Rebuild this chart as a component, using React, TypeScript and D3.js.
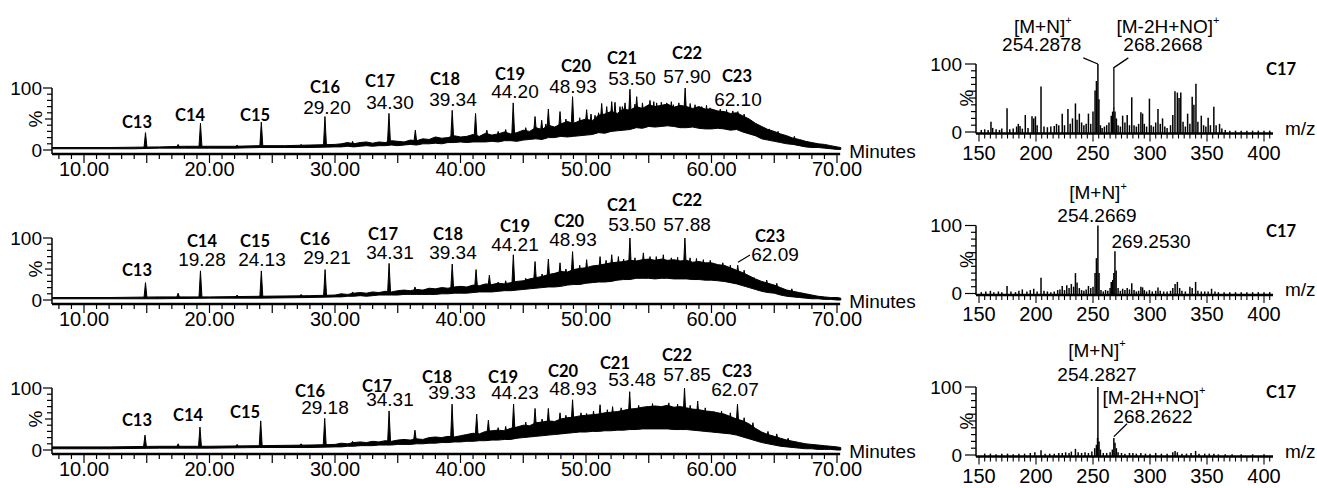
import React from 'react';
import * as d3 from 'd3';

const W = 1317;
const H = 488;

// ---------- Chromatogram data (time min, low %, high %) ----------
const env1: number[][] = [
  [7.5, 2, 4], [10, 2, 4], [12, 2, 4], [14, 2, 4.5], [16, 3, 5], [18, 3, 6], [20, 3, 6], [22, 3, 6],
  [24, 4, 7], [26, 4, 7], [28, 4, 8],
  [30, 5, 9], [30.5, 5, 10], [31, 6, 12], [31.5, 5, 10], [32, 6, 12], [32.5, 7, 13], [33, 6, 11], [33.5, 7, 13],
  [34, 7, 12], [34.5, 8, 15], [35, 7, 14], [35.5, 8, 13], [36, 9, 16], [36.5, 8, 15], [37, 10, 18], [37.5, 10, 17],
  [38, 11, 21], [38.5, 10, 19], [39, 12, 20], [39.5, 12, 23], [40, 13, 21], [40.5, 12, 22], [41, 13, 25],
  [41.5, 13, 22], [42, 13, 27], [42.5, 14, 24], [43, 13, 26], [43.5, 15, 29], [44, 15, 26], [44.5, 14, 28],
  [45, 16, 32], [45.5, 17, 30], [46, 18, 36], [46.5, 17, 33], [47, 20, 40], [47.5, 20, 37], [48, 22, 42],
  [48.5, 21, 46], [49, 22, 43], [49.5, 23, 47], [50, 24, 50], [50.5, 25, 47], [51, 28, 56], [51.5, 27, 58],
  [52, 30, 62], [52.5, 31, 59], [53, 32, 66], [53.5, 33, 64], [54, 36, 70], [54.5, 35, 67], [55, 38, 73],
  [55.5, 37, 70], [56, 38, 72], [56.5, 39, 74], [57, 38, 69], [57.5, 36, 72], [58, 36, 70], [58.5, 37, 67],
  [59, 35, 70], [59.5, 34, 66], [60, 34, 66], [60.5, 35, 63], [61, 34, 62], [61.5, 32, 59], [62, 33, 60],
  [62.5, 29, 55], [63, 26, 50], [63.5, 23, 43], [64, 18, 38], [64.5, 16, 33], [65, 14, 30], [65.5, 12, 26],
  [66, 10, 23], [66.5, 9, 19], [67, 7, 17], [67.5, 5, 14], [68, 4, 12], [68.5, 4, 10], [69, 3, 9],
  [69.5, 2, 7], [70, 1, 5], [70.3, 1, 4],
];
const env2: number[][] = [
  [7.5, 2, 4], [12, 2, 4], [16, 2, 5], [20, 3, 5], [24, 3, 6], [28, 4, 7],
  [30, 5, 8], [30.5, 5, 10], [31, 6, 9], [31.5, 6, 11], [32, 7, 12], [32.5, 6, 11], [33, 7, 13], [33.5, 8, 12],
  [34, 8, 14], [34.5, 8, 13], [35, 8, 15], [35.5, 9, 16], [36, 9, 15], [36.5, 9, 17], [37, 9, 16], [37.5, 9, 19],
  [38, 9, 18], [38.5, 10, 20], [39, 10, 19], [39.5, 11, 21], [40, 11, 22], [40.5, 11, 21], [41, 12, 24],
  [41.5, 13, 23], [42, 13, 26], [42.5, 13, 25], [43, 14, 27], [43.5, 15, 26], [44, 15, 28], [44.5, 16, 30],
  [45, 17, 31], [45.5, 18, 34], [46, 19, 36], [46.5, 20, 38], [47, 21, 41], [47.5, 21, 43], [48, 22, 46],
  [48.5, 24, 45], [49, 25, 49], [49.5, 25, 51], [50, 27, 52], [50.5, 28, 55], [51, 29, 56], [51.5, 29, 58],
  [52, 30, 60], [52.5, 32, 61], [53, 33, 62], [53.5, 33, 64], [54, 35, 63], [54.5, 35, 65], [55, 35, 66],
  [55.5, 34, 64], [56, 35, 66], [56.5, 35, 64], [57, 34, 65], [57.5, 34, 63], [58, 34, 64], [58.5, 33, 61],
  [59, 33, 62], [59.5, 32, 60], [60, 32, 60], [60.5, 31, 57], [61, 30, 56], [61.5, 28, 52], [62, 26, 48],
  [62.5, 23, 44], [63, 20, 39], [63.5, 17, 34], [64, 14, 30], [64.5, 12, 27], [65, 11, 24], [65.5, 8, 20],
  [66, 6, 16], [66.5, 5, 14], [67, 4, 12], [67.5, 3, 10], [68, 2, 8], [68.5, 2, 6], [69, 1, 5], [69.5, 1, 4],
  [70, 0, 4], [70.3, 0, 3],
];
const env3: number[][] = [
  [7.5, 2, 5], [12, 2, 5], [16, 3, 6], [20, 3, 6], [24, 4, 7], [28, 4, 8],
  [30, 5, 9], [30.5, 5, 11], [31, 6, 10], [31.5, 6, 12], [32, 7, 13], [32.5, 7, 12], [33, 7, 14], [33.5, 8, 13],
  [34, 8, 15], [34.5, 8, 14], [35, 9, 16], [35.5, 9, 17], [36, 9, 16], [36.5, 10, 18], [37, 10, 17], [37.5, 11, 20],
  [38, 11, 21], [38.5, 12, 20], [39, 12, 22], [39.5, 13, 21], [40, 13, 23], [40.5, 14, 25], [41, 14, 27],
  [41.5, 15, 26], [42, 15, 30], [42.5, 16, 31], [43, 16, 32], [43.5, 17, 31], [44, 17, 35], [44.5, 19, 37],
  [45, 20, 40], [45.5, 21, 39], [46, 22, 44], [46.5, 23, 45], [47, 24, 47], [47.5, 25, 46], [48, 26, 50],
  [48.5, 27, 52], [49, 28, 53], [49.5, 29, 55], [50, 29, 56], [50.5, 30, 57], [51, 30, 58], [51.5, 31, 60],
  [52, 31, 61], [52.5, 32, 62], [53, 32, 64], [53.5, 33, 66], [54, 33, 67], [54.5, 34, 69], [55, 34, 70],
  [55.5, 34, 71], [56, 34, 70], [56.5, 34, 72], [57, 33, 69], [57.5, 33, 70], [58, 33, 68], [58.5, 32, 66],
  [59, 31, 65], [59.5, 30, 63], [60, 29, 62], [60.5, 28, 60], [61, 27, 58], [61.5, 26, 54], [62, 24, 50],
  [62.5, 21, 47], [63, 18, 42], [63.5, 15, 35], [64, 12, 29], [64.5, 10, 25], [65, 8, 22], [65.5, 6, 19],
  [66, 5, 16], [66.5, 4, 14], [67, 3, 12], [67.5, 2, 10], [68, 2, 9], [68.5, 1, 8], [69, 1, 7], [69.5, 1, 6],
  [70, 0, 5], [70.3, 0, 4],
];

// spikes: [time, height %]
const spikes1: number[][] = [
  [14.9, 28], [17.5, 9], [19.28, 43], [22.2, 8], [24.13, 45], [27.3, 9], [29.2, 54], [31.4, 14],
  [34.3, 59], [36.4, 32], [39.34, 64], [41.2, 59], [42.1, 32], [44.2, 76], [45.94, 54], [46.47, 48],
  [47.0, 66], [47.93, 62], [48.93, 86], [50.05, 65], [50.72, 56], [51.25, 75], [51.65, 70], [52.05, 78],
  [52.31, 77], [52.71, 70], [53.11, 76], [53.5, 98], [54.04, 86], [55.1, 80], [55.63, 76], [56.43, 76],
  [56.96, 73], [57.9, 100], [58.69, 73], [59.22, 70], [59.88, 68], [60.28, 62], [62.1, 62], [63.6, 35],
  [43.0, 30], [43.6, 33], [45.2, 36], [46.8, 42], [48.4, 50], [49.5, 52], [50.4, 58], [51.0, 60],
  [52.9, 70], [53.9, 74], [54.5, 76], [55.4, 78], [56.0, 77], [56.8, 78], [57.4, 76], [58.3, 75],
  [59.6, 72], [60.7, 66], [61.2, 65], [61.7, 63], [62.6, 58], [64.6, 34], [65.3, 30], [66.6, 22],
];
const spikes2: number[][] = [
  [14.9, 28], [17.5, 11], [19.28, 47], [22.2, 8], [24.13, 47], [27.3, 9], [29.21, 49], [31.4, 13],
  [34.31, 59], [36.37, 21], [39.34, 58], [41.24, 49], [42.3, 40], [44.21, 73], [45.94, 62], [47.0, 66],
  [47.93, 60], [48.93, 78], [50.05, 65], [50.58, 54], [51.12, 70], [52.05, 73], [52.58, 70], [53.5, 100],
  [54.57, 76], [55.1, 70], [56.16, 73], [57.88, 100], [58.29, 68], [59.35, 65], [60.4, 58], [62.09, 56],
  [63.4, 36],
  [43.0, 29], [43.6, 31], [45.2, 35], [46.5, 42], [48.4, 50], [49.5, 56], [51.6, 64], [53.0, 66],
  [53.9, 68], [55.6, 70], [56.8, 68], [57.3, 69], [58.8, 67], [59.9, 64], [60.9, 60], [61.5, 56],
  [62.6, 48], [64.4, 32], [65.2, 27], [66.4, 18],
];
const spikes3: number[][] = [
  [14.86, 24], [17.5, 10], [19.24, 37], [22.2, 9], [24.08, 47], [27.3, 10], [29.18, 51], [31.4, 14],
  [34.31, 63], [36.37, 32], [39.33, 74], [41.29, 58], [42.22, 48], [44.23, 74], [45.94, 67], [47.0, 67],
  [47.93, 60], [48.93, 81], [50.05, 59], [51.12, 73], [52.12, 70], [53.48, 94], [54.84, 70], [56.16, 65],
  [57.85, 100], [58.9, 79], [60.2, 62], [62.07, 74], [63.3, 44], [66.1, 19],
  [43.0, 36], [43.6, 38], [45.2, 45], [46.5, 50], [48.4, 56], [49.6, 60], [50.6, 63], [51.7, 65],
  [52.8, 68], [54.2, 72], [55.3, 75], [56.6, 76], [57.3, 74], [58.3, 72], [59.5, 68], [60.8, 63],
  [61.5, 60], [62.6, 52], [64.5, 30], [65.2, 26],
];

const carbons = ['C13', 'C14', 'C15', 'C16', 'C17', 'C18', 'C19', 'C20', 'C21', 'C22', 'C23'];

// retention-time labels (null = none)
const rts1 = [null, null, null, '29.20', '34.30', '39.34', '44.20', '48.93', '53.50', '57.90', '62.10'];
const rts2 = [null, '19.28', '24.13', '29.21', '34.31', '39.34', '44.21', '48.93', '53.50', '57.88', '62.09'];
const rts3 = [null, null, null, '29.18', '34.31', '39.33', '44.23', '48.93', '53.48', '57.85', '62.07'];

// label anchors in data units [time, %]
const namePos1 = [[14.22, 45], [18.45, 56], [23.63, 56], [29.2, 101], [33.59, 111], [38.76, 114], [43.94, 122], [49.2, 135], [52.87, 149], [58.05, 157], [62.03, 120]];
const rtPos1 = [null, null, null, [29.36, 69], [34.38, 76], [39.4, 81], [44.34, 94], [48.96, 103], [53.67, 116], [58.05, 118], [62.11, 82]];
const namePos2 = [[14.22, 48], [19.4, 95], [23.63, 95], [28.41, 98], [33.82, 106], [39.0, 106], [44.34, 119], [48.65, 127], [52.87, 154], [58.05, 162], [64.66, 104]];
const rtPos2 = [null, [19.4, 65], [24.18, 65], [29.36, 68], [34.38, 76], [39.4, 76], [44.34, 89], [48.96, 97], [53.67, 121], [58.05, 121], [65.06, 73]];
const namePos3 = [[14.22, 48], [18.29, 56], [22.83, 61], [28.01, 95], [33.35, 104], [38.13, 118], [43.39, 118], [48.17, 127], [52.31, 141], [57.25, 154], [62.03, 127]];
const rtPos3 = [null, null, null, [29.2, 68], [34.38, 81], [39.32, 92], [44.34, 92], [48.96, 100], [53.67, 113], [58.05, 121], [61.87, 97]];

const leaders2 = [[[63.07, 72.6], [62.11, 61]]];

// ---------- Mass spectra data [m/z, %] ----------
const spec1: number[][] = [
  [152, 3], [155, 4], [158, 3], [160.5, 15], [162, 6], [165, 4], [168, 3], [170, 5], [174.6, 35], [177, 4],
  [180, 5], [183, 8], [184.5, 12], [186, 9], [188, 5], [190.6, 25], [193, 6], [196.5, 23], [198, 20],
  [199.5, 23], [201, 10], [204.4, 67], [207, 8], [210, 7], [213, 8], [216, 9], [218, 12], [220, 10],
  [223, 27], [225, 10], [228, 34], [230, 12], [232, 20], [234.6, 42], [236, 18], [238, 27], [240, 14],
  [242, 10], [244, 12], [246, 27], [248, 12], [250, 30], [251.8, 61], [253, 75], [254.3, 100], [255.2, 48],
  [256.5, 10], [258, 6], [260, 8], [262, 10], [264, 14], [266, 24], [267.2, 30], [268.3, 38], [269.3, 30],
  [270.5, 20], [272, 10], [274, 8], [276, 24], [278, 14], [280, 25], [282, 10], [284, 51], [286, 10],
  [288, 8], [290, 12], [292, 29], [293.5, 27], [295, 12], [297, 8], [299.5, 49], [301, 10], [303, 8],
  [305, 14], [307, 34], [309, 12], [311, 20], [313, 8], [315, 6], [318, 10], [320, 25], [321.9, 60],
  [324, 58], [325.5, 50], [327, 58], [329, 15], [331, 8], [333, 27], [335, 12], [337, 52], [338.5, 40],
  [340.3, 71], [342, 15], [345, 24], [347, 10], [349, 8], [351, 21], [353, 10], [356, 37], [358, 10],
  [361, 12], [363, 5], [366, 3], [370, 2], [375, 2], [380, 2], [385, 2], [390, 2], [395, 2], [400, 2], [405, 2],
];
const spec2: number[][] = [
  [152, 2], [156, 3], [160, 4], [163, 2], [167, 3], [170, 2], [174.6, 11], [178, 3], [182, 2], [185, 4],
  [188, 6], [192, 3], [195, 5], [198, 7], [201, 3], [204.4, 23], [207, 4], [210, 3], [213, 2], [216, 3],
  [219, 5], [221, 6], [223, 11], [225, 5], [227, 12], [229, 8], [231, 14], [233, 10], [234.6, 30],
  [236, 16], [238, 8], [240, 5], [242, 4], [244, 6], [246, 11], [248, 8], [250, 10], [251.8, 30],
  [253, 52], [254.3, 100], [255.3, 30], [257, 5], [259, 3], [261, 5], [263, 4], [265, 8], [266, 17],
  [267.3, 20], [268.3, 30], [269.25, 62], [270.3, 34], [272, 8], [274, 4], [276, 7], [278, 5], [280, 8],
  [282, 6], [284, 15], [286, 5], [288, 3], [290, 4], [292, 10], [293.5, 9], [295, 5], [297, 3],
  [299.5, 5], [302, 3], [305, 4], [307, 9], [309, 4], [312, 3], [315, 3], [318, 4], [320, 8], [322, 14],
  [324, 17], [326, 8], [328, 4], [331, 3], [335, 10], [337, 8], [340, 17], [342, 4], [345, 3], [348, 3],
  [351, 3], [354, 7], [357, 3], [360, 2], [365, 2], [370, 2], [375, 2], [380, 2], [385, 2], [390, 2],
  [395, 2], [400, 2], [405, 2],
];
const spec3: number[][] = [
  [155, 2], [160, 2], [165, 1], [170, 2], [175, 2], [180, 1], [185, 2], [190, 2], [195, 3], [199, 4],
  [204.4, 7], [208, 2], [212, 2], [216, 2], [220, 3], [223, 3], [226, 4], [229, 3], [231, 5], [234.6, 9],
  [237, 4], [240, 3], [243, 4], [246, 3], [249, 5], [251.5, 10], [253, 15], [254, 25], [254.3, 100],
  [255.3, 20], [256.5, 8], [259, 3], [262, 3], [265, 4], [267, 8], [268.3, 25], [269.3, 18], [270.5, 10],
  [272, 4], [275, 3], [278, 2], [282, 3], [285, 3], [288, 2], [292, 3], [296, 2], [300, 2], [305, 3],
  [310, 2], [315, 2], [320, 4], [322, 6], [324, 4], [328, 2], [332, 2], [336, 3], [340, 6], [343, 2],
  [348, 2], [352, 2], [356, 2], [360, 1], [366, 1], [372, 1], [380, 1], [390, 1], [400, 1],
];

type SpecLabel = { text: string; mz: number; v: number; sup?: boolean };
const specLabels1: SpecLabel[] = [
  { text: '[M+N]', mz: 206, v: 155, sup: true },
  { text: '254.2878', mz: 205, v: 129 },
  { text: '[M-2H+NO]', mz: 315.8, v: 155, sup: true },
  { text: '268.2668', mz: 311.4, v: 129 },
];
const specLabels2: SpecLabel[] = [
  { text: '[M+N]', mz: 254.4, v: 148, sup: true },
  { text: '254.2669', mz: 253.5, v: 115 },
  { text: '269.2530', mz: 300.9, v: 76 },
];
const specLabels3: SpecLabel[] = [
  { text: '[M+N]', mz: 253.5, v: 154, sup: true },
  { text: '254.2827', mz: 253.5, v: 119 },
  { text: '[M-2H+NO]', mz: 303.5, v: 85, sup: true },
  { text: '268.2622', mz: 302.6, v: 57 },
];
const specLeaders1 = [[[241.5, 109], [254.3, 100]], [[281, 109], [268.3, 94.6], [268.3, 38]]];
const specLeaders2: number[][][] = [];
const specLeaders3 = [[[279.8, 46], [268.3, 27]]];

const FONT = "'Liberation Sans', Arial, sans-serif";
const BOLD = "Lato, 'Open Sans', sans-serif";

function Chrom(props: any) {
  const { y0, env, spikes, rts, namePos, rtPos, leaders } = props;
  const x = d3.scaleLinear().domain([10, 70]).range([84, 837]);
  const y = d3.scaleLinear().domain([0, 100]).range([y0, y0 - 62]);
  const axY = y0 + 4;
  const xStart = x(7.45);
  const xEnd = x(70.25);
  const area = d3.area<number[]>().x((d) => x(d[0])).y0((d) => y(d[1])).y1((d) => y(d[2]));
  const ts = env.map((d: number[]) => d[0]);
  const baseAt = (t: number) => {
    const i = Math.max(1, Math.min(env.length - 1, d3.bisectLeft(ts, t)));
    const a = env[i - 1], b = env[i];
    const f = (t - a[0]) / (b[0] - a[0]);
    return (a[1] + (b[1] - a[1]) * f + a[2] + (b[2] - a[2]) * f) / 2;
  };
  const minor = d3.range(8, 71, 1);
  const major = d3.range(10, 71, 10);
  const yt = d3.range(0, 101, 10);
  return (
    <g>
      <path d={area(env) || ''} fill="#000" stroke="#000" strokeWidth={1} strokeLinejoin="round" />
      {spikes.map((s: number[], i: number) => {
        const b = baseAt(s[0]);
        return (
          <path key={i}
            d={`M${x(s[0] - 0.12)},${y(b)}L${x(s[0])},${y(s[1])}L${x(s[0] + 0.12)},${y(b)}Z`}
            fill="#000" stroke="#000" strokeWidth={1} />
        );
      })}
      {/* axes */}
      <line x1={xStart} x2={xEnd} y1={axY} y2={axY} stroke="#000" strokeWidth={2.4} />
      <line x1={xStart} x2={xStart} y1={axY} y2={y(100)} stroke="#000" strokeWidth={1.5} />
      {minor.map((t) => (
        <line key={t} x1={x(t)} x2={x(t)} y1={axY} y2={axY + (t % 5 === 0 ? 9 : 5)} stroke="#000" strokeWidth={1.2} />
      ))}
      {major.map((t) => (
        <text key={t} x={x(t)} y={y0 + 18.5} fontSize={20} fontFamily={FONT} textAnchor="middle" dominantBaseline="central">
          {d3.format('.2f')(t)}
        </text>
      ))}
      {yt.map((v) => (
        <line key={v} x1={xStart - (v % 100 === 0 ? 9 : v === 50 ? 7 : 5)} x2={xStart} y1={y(v)} y2={y(v)} stroke="#000" strokeWidth={1.2} />
      ))}
      <text x={xStart - 10} y={y(100)} fontSize={19} fontFamily={FONT} textAnchor="end" dominantBaseline="central">100</text>
      <text x={xStart - 10} y={y(0)} fontSize={19} fontFamily={FONT} textAnchor="end" dominantBaseline="central">0</text>
      <text transform={`translate(${xStart - 16},${y(50)}) rotate(-90)`} fontSize={19} fontFamily={FONT} textAnchor="middle" dominantBaseline="central">%</text>
      <text x={xEnd + 9} y={y0 + 1} fontSize={19} fontFamily={FONT} dominantBaseline="central">Minutes</text>
      {carbons.map((c, i) => (
        <text key={c} x={x(namePos[i][0])} y={y(namePos[i][1])} fontSize={16.5} fontWeight="bold" fontFamily={BOLD} textAnchor="middle" dominantBaseline="central">{c}</text>
      ))}
      {rts.map((r: string | null, i: number) => r && rtPos[i] ? (
        <text key={'r' + i} x={x(rtPos[i][0])} y={y(rtPos[i][1])} fontSize={19} fontFamily={FONT} textAnchor="middle" dominantBaseline="central">{r}</text>
      ) : null)}
      {leaders.map((l: number[][], i: number) => (
        <path key={'l' + i} d={d3.line<number[]>().x((d) => x(d[0])).y((d) => y(d[1]))(l) || ''} fill="none" stroke="#000" strokeWidth={1.2} />
      ))}
    </g>
  );
}

function Spec(props: any) {
  const { y0, data, labels, leaders } = props;
  const x = d3.scaleLinear().domain([150, 400]).range([979, 1264]);
  const y = d3.scaleLinear().domain([0, 100]).range([y0, y0 - 68]);
  const axY = y0 + 1.5;
  const xStart = 976;
  const xEnd = 1273;
  const minor = d3.range(150, 406, 5);
  const major = d3.range(150, 401, 50);
  const yt = d3.range(0, 101, 10);
  return (
    <g>
      {data.map((d: number[], i: number) => (
        <line key={i} x1={x(d[0])} x2={x(d[0])} y1={axY} y2={y(d[1])} stroke="#000" strokeWidth={1.5} />
      ))}
      <line x1={xStart} x2={xEnd} y1={axY} y2={axY} stroke="#000" strokeWidth={2.6} />
      <line x1={xStart} x2={xStart} y1={axY} y2={y(100)} stroke="#000" strokeWidth={1.5} />
      {minor.map((t) => (
        <line key={t} x1={x(t)} x2={x(t)} y1={axY} y2={axY + (t % 50 === 0 ? 8 : 5)} stroke="#000" strokeWidth={1.1} />
      ))}
      {major.map((t) => (
        <text key={t} x={x(t)} y={y0 + 20.5} fontSize={20} fontFamily={FONT} textAnchor="middle" dominantBaseline="central">{t}</text>
      ))}
      {yt.map((v) => (
        <line key={v} x1={xStart - (v % 100 === 0 ? 11 : v === 50 ? 7 : 5)} x2={xStart} y1={y(v)} y2={y(v)} stroke="#000" strokeWidth={1.2} />
      ))}
      <text x={xStart - 14} y={y(100)} fontSize={19} fontFamily={FONT} textAnchor="end" dominantBaseline="central">100</text>
      <text x={xStart - 14} y={y(0)} fontSize={19} fontFamily={FONT} textAnchor="end" dominantBaseline="central">0</text>
      <text transform={`translate(${xStart - 10},${y(50)}) rotate(-90)`} fontSize={19} fontFamily={FONT} textAnchor="middle" dominantBaseline="central">%</text>
      <text x={xEnd + 12} y={y0 - 4} fontSize={19} fontFamily={FONT} dominantBaseline="central">m/z</text>
      <text x={x(415)} y={y(92)} fontSize={16.5} fontWeight="bold" fontFamily={BOLD} textAnchor="middle" dominantBaseline="central">C17</text>
      {labels.map((l: SpecLabel, i: number) => (
        <text key={i} x={x(l.mz)} y={y(l.v)} fontSize={19} fontFamily={FONT} textAnchor="middle" dominantBaseline="central">
          {l.text}
          {l.sup ? <tspan fontSize={11} dy={-7}>+</tspan> : null}
        </text>
      ))}
      {leaders.map((l: number[][], i: number) => (
        <path key={'l' + i} d={d3.line<number[]>().x((d) => x(d[0])).y((d) => y(d[1]))(l) || ''} fill="none" stroke="#000" strokeWidth={1.3} />
      ))}
    </g>
  );
}

export default function App() {
  return (
    <svg width={W} height={H} style={{ position: 'absolute', left: 0, top: 0, background: '#fff' }}>
      <Chrom y0={150} env={env1} spikes={spikes1} rts={rts1} namePos={namePos1} rtPos={rtPos1} leaders={[]} />
      <Chrom y0={300} env={env2} spikes={spikes2} rts={rts2} namePos={namePos2} rtPos={rtPos2} leaders={leaders2} />
      <Chrom y0={450} env={env3} spikes={spikes3} rts={rts3} namePos={namePos3} rtPos={rtPos3} leaders={[]} />
      <Spec y0={132} data={spec1} labels={specLabels1} leaders={specLeaders1} />
      <Spec y0={293.5} data={spec2} labels={specLabels2} leaders={specLeaders2} />
      <Spec y0={455} data={spec3} labels={specLabels3} leaders={specLeaders3} />
    </svg>
  );
}
